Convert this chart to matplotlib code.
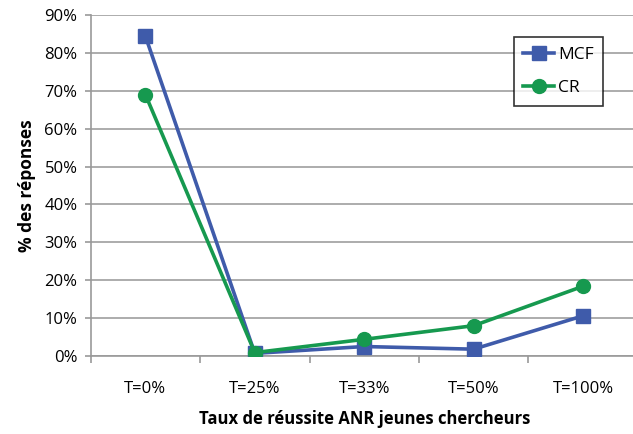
import matplotlib
matplotlib.use('Agg')
import matplotlib.pyplot as plt
from matplotlib.ticker import FuncFormatter

categories = ['T=0%', 'T=25%', 'T=33%', 'T=50%', 'T=100%']
mcf = [84.4, 0.7, 2.5, 1.8, 10.6]
cr = [69.0, 0.9, 4.4, 8.0, 18.4]

plt.rcParams['font.family'] = ['Open Sans', 'DejaVu Sans']

fig = plt.figure(figsize=(6.33, 4.34), dpi=100)
ax = fig.add_axes([90.7 / 633, 1 - 356 / 434, 547 / 633, 341 / 434])

x = range(len(categories))
ax.plot(x, mcf, color='#3F5BAA', lw=2.6, marker='s', ms=10, label='MCF', zorder=3)
ax.plot(x, cr, color='#16994F', lw=2.6, marker='o', ms=10, label='CR', zorder=3)

ax.set_xlim(-0.5, 4.5)
ax.set_ylim(0, 90)
ax.set_yticks(range(0, 91, 10))
ax.yaxis.set_major_formatter(FuncFormatter(lambda v, p: f'{int(v)}%'))
ax.set_xticks(list(x))
ax.set_xticklabels(categories)
ax.set_xticks([i + 0.5 for i in range(-1, 5)], minor=True)
ax.tick_params(axis='x', which='major', length=0, pad=18, labelsize=12)
ax.tick_params(axis='x', which='minor', length=5, color='#999999', width=1.2)
ax.tick_params(axis='y', length=4.5, color='#999999', width=1.2, labelsize=12, pad=5)

ax.grid(axis='y', color='#A6A6A6', lw=1.3)
ax.set_axisbelow(True)
for s in ['top', 'right']:
    ax.spines[s].set_visible(False)
ax.spines['left'].set_color('#999999')
ax.spines['bottom'].set_color('#999999')
ax.spines['left'].set_linewidth(1.2)
ax.spines['bottom'].set_linewidth(1.2)

ax.set_ylabel('% des réponses', fontsize=12.5, fontweight='bold', labelpad=6)
ax.set_xlabel('Taux de réussite ANR jeunes chercheurs', fontsize=12, fontweight='bold', labelpad=9)

leg = ax.legend(loc='upper right', fontsize=12.5, frameon=True, fancybox=False, edgecolor='black',
                handlelength=1.8, borderpad=0.55, labelspacing=1.0, handletextpad=0.2, borderaxespad=0)
leg.get_frame().set_linewidth(1.2)
leg.set_bbox_to_anchor((603 / 633, 1 - 37 / 434), transform=fig.transFigure)

fig.savefig('out.png', dpi=100)
